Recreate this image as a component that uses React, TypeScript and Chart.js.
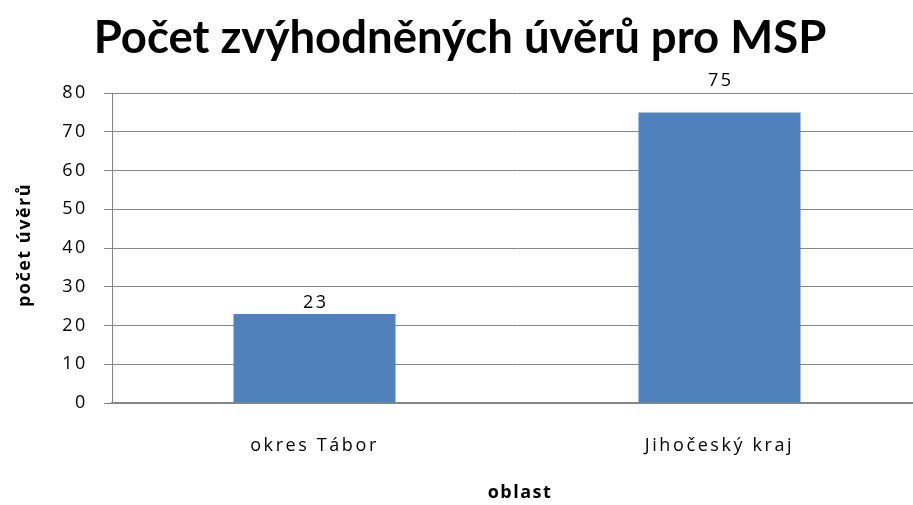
import React, { useEffect, useRef } from "react";
import { Chart, registerables } from "chart.js";

Chart.register(...registerables);

const categories = ["okres Tábor", "Jihočeský kraj"];
const values = [23, 75];
const yTicks = [0, 10, 20, 30, 40, 50, 60, 70, 80];
const titleText = "Počet zvýhodněných úvěrů pro MSP";
const yTitle = "počet úvěrů";
const xTitle = "oblast";
const labelOffsets = [6, 26];

const FONT = "'Open Sans', 'DejaVu Sans', sans-serif";
const TITLE_FONT = "Lato, 'Open Sans', sans-serif";
const TICK_SPACING = 2.6;

const spacing = {
  id: "spacing",
  beforeDraw(chart: any) {
    (chart.ctx as any).letterSpacing = `${TICK_SPACING}px`;
  },
};

const textLayer = {
  id: "textLayer",
  afterDraw(chart: any) {
    const ctx = chart.ctx as any;
    const area = chart.chartArea;
    ctx.save();
    // value labels
    ctx.letterSpacing = `${TICK_SPACING}px`;
    ctx.font = `18px ${FONT}`;
    ctx.fillStyle = "#000";
    ctx.textAlign = "center";
    ctx.textBaseline = "alphabetic";
    const meta = chart.getDatasetMeta(0);
    meta.data.forEach((bar: any, i: number) => {
      ctx.fillText(String(values[i]), bar.x + TICK_SPACING / 2, bar.y - labelOffsets[i]);
    });
    // main title
    ctx.letterSpacing = "0px";
    ctx.font = `bold 45.5px ${TITLE_FONT}`;
    ctx.textBaseline = "middle";
    ctx.fillText(titleText, 460, 38);
    // axis titles
    ctx.letterSpacing = "1.5px";
    ctx.font = `bold 18px ${FONT}`;
    ctx.fillText(xTitle, (area.left + area.right) / 2 + 3, 493);
    ctx.save();
    ctx.translate(25, (area.top + area.bottom) / 2 - 3);
    ctx.rotate(-Math.PI / 2);
    ctx.fillText(yTitle, 0, 0);
    ctx.restore();
    ctx.restore();
  },
};

export default function App() {
  const ref = useRef<HTMLCanvasElement | null>(null);
  useEffect(() => {
    if (!ref.current) return;
    const chart = new Chart(ref.current, {
      type: "bar",
      data: {
        labels: categories,
        datasets: [
          {
            data: values,
            backgroundColor: "#4F81BD",
            borderWidth: 0,
            barPercentage: 0.4,
            categoryPercentage: 1,
          },
        ],
      },
      options: {
        responsive: false,
        animation: false,
        layout: { padding: { left: 0, right: 8, top: 93, bottom: 0 } },
        plugins: {
          legend: { display: false },
          tooltip: { enabled: false },
          title: { display: false },
        },
        scales: {
          x: {
            grid: { display: false },
            border: { display: true, color: "#868686", width: 2 },
            ticks: { color: "#000", font: { family: FONT, size: 18 }, padding: 24 },
            afterFit: (s: any) => {
              s.height = 102;
            },
          },
          y: {
            min: 0,
            max: 80,
            afterBuildTicks: (s: any) => {
              s.ticks = yTicks.map((v) => ({ value: v }));
            },
            grid: { color: "#868686", lineWidth: 1, tickLength: 8 },
            border: { display: true, color: "#868686", width: 1 },
            ticks: { color: "#000", font: { family: FONT, size: 18 }, padding: 16 },
            afterFit: (s: any) => {
              s.width = 112;
            },
          },
        },
      },
      plugins: [spacing, textLayer],
    });
    return () => chart.destroy();
  }, []);
  return (
    <div
      style={{
        position: "absolute",
        left: 0,
        top: 0,
        width: 913,
        height: 505,
        overflow: "hidden",
        background: "#fff",
      }}
    >
      <canvas ref={ref} width={930} height={505} style={{ display: "block", width: 930, height: 505 }} />
    </div>
  );
}
